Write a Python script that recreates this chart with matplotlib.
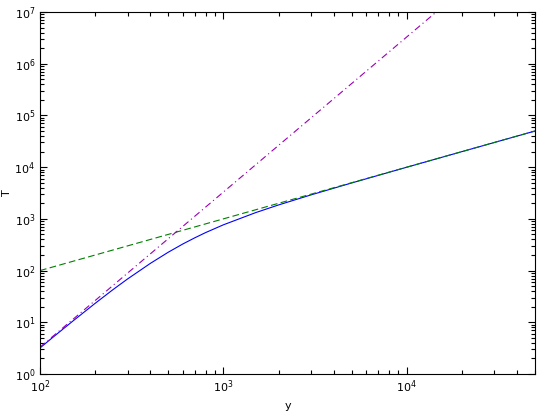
import matplotlib
matplotlib.use("Agg")
import matplotlib.pyplot as plt
from matplotlib.ticker import LogLocator, NullFormatter

# Data
y_green = [1e2, 5e4]
T_green = [1e2, 5e4]

y_mag = [1e2, 2e4]
T_mag = [3.3, 2.64e7]

y_blue = [100, 120, 150, 200, 250, 300, 400, 500, 600, 700, 800, 1000, 1500,
          2000, 3000, 5000, 10000, 20000, 50000]
T_blue = [3.19, 5.44, 10.35, 23.3, 42.8, 68.7, 138, 226, 326, 432, 543, 767, 1321,
          1859, 2903, 4940, 9970, 19985, 49950]

xticks = [1e2, 1e3, 1e4]
xticklabels = [r"$10^{2}$", r"$10^{3}$", r"$10^{4}$"]
yticks = [1e0, 1e1, 1e2, 1e3, 1e4, 1e5, 1e6, 1e7]
yticklabels = [r"$10^{%d}$" % i for i in range(8)]

fig = plt.figure(figsize=(5.42, 4.13), dpi=100)
ax = fig.add_axes([40/542, 39/413, 495/542, 362/413])

ax.plot(y_blue, T_blue, color=(0, 0, 1), lw=0.8, ls='-')
ax.plot(y_green, T_green, color=(0, 0.5, 0), lw=0.8, ls=(0, (6, 3)))
ax.plot(y_mag, T_mag, color=(0.6, 0, 0.7), lw=0.8, ls=(0, (6, 3, 1, 3)))

ax.set_xscale('log')
ax.set_yscale('log')
ax.set_xlim(1e2, 5e4)
ax.set_ylim(1e0, 1e7)

ax.set_xticks(xticks)
ax.set_xticklabels(xticklabels)
ax.set_yticks(yticks)
ax.set_yticklabels(yticklabels)
ax.xaxis.set_minor_locator(LogLocator(base=10, subs=range(2, 10)))
ax.yaxis.set_minor_locator(LogLocator(base=10, subs=range(2, 10)))
ax.xaxis.set_minor_formatter(NullFormatter())
ax.yaxis.set_minor_formatter(NullFormatter())

ax.tick_params(which='both', direction='in', top=True, right=True, labelsize=8, width=0.8)
ax.tick_params(which='major', length=5)
ax.tick_params(which='minor', length=3)
for s in ax.spines.values():
    s.set_linewidth(0.8)

ax.set_xlabel("y", fontsize=8)
ax.xaxis.set_label_coords(0.5, -0.075)
ax.set_ylabel("T", fontsize=8)
ax.yaxis.set_label_coords(-0.056, 0.5)

fig.savefig("out.png", dpi=100)
